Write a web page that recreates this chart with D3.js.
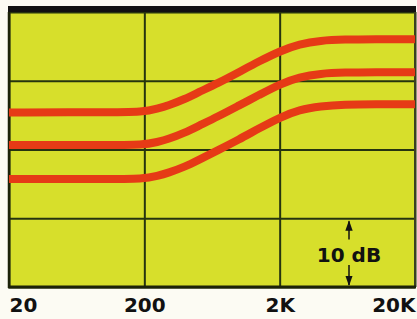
<!DOCTYPE html>
<html>
<head>
<meta charset="utf-8">
<script src="https://cdn.jsdelivr.net/npm/d3@7"></script>
<style>
  body { margin: 0; background: #fcfbf3; }
  svg { display: block; }
</style>
</head>
<body>
<div id="chart"></div>
<script>
// frequency points (Hz) and three shelving curves (dB)
const freqs = [20, 100, 200, 250, 300, 400, 500, 700, 1000, 1400, 2000, 2800, 4000, 6000, 10000, 20000];
const curveHigh = [25.4, 25.4, 25.45, 25.95, 26.4, 27.35, 28.3, 29.65, 31.25, 32.8, 34.3, 35.35, 35.85, 36.0, 36.05, 36.05];
const curveMid  = [20.65, 20.65, 20.65, 21.1, 21.5, 22.45, 23.4, 24.8, 26.4, 27.9, 29.5, 30.55, 31.05, 31.2, 31.25, 31.25];
const curveLow  = [15.7, 15.7, 15.7, 16.15, 16.6, 17.5, 18.45, 19.9, 21.45, 23.05, 24.65, 25.8, 26.3, 26.55, 26.6, 26.6];

const xTicks = [20, 200, 2000, 20000];
const xTickLabels = ["20", "200", "2K", "20K"];
const dbTicks = [0, 10, 20, 30, 40];

const width = 417;
const height = 319;
const plotLeft = 9, plotRight = 415, plotTop = 12, plotBottom = 287;

const svg = d3.select("#chart")
    .append("svg")
    .attr("width", width)
    .attr("height", height);

const x = d3.scaleLog().domain([20, 20000]).range([plotLeft, plotRight]);
const y = d3.scaleLinear().domain([0, 40]).range([plotBottom, plotTop]);

// plot background
svg.append("rect")
    .attr("x", plotLeft)
    .attr("y", plotTop)
    .attr("width", plotRight - plotLeft)
    .attr("height", plotBottom - plotTop)
    .attr("fill", "#d7df2b");

// vertical grid + labels
const xAxis = svg.append("g")
    .attr("transform", "translate(0," + plotBottom + ")")
    .call(d3.axisBottom(x)
        .tickValues(xTicks)
        .tickSize(-(plotBottom - plotTop))
        .tickFormat((d, i) => xTickLabels[i]));

xAxis.select(".domain").remove();
xAxis.selectAll(".tick line")
    .attr("stroke", "#26340f")
    .attr("stroke-width", 2);
xAxis.selectAll(".tick text")
    .attr("y", 25)
    .attr("dy", 0)
    .attr("font-family", "DejaVu Sans")
    .attr("font-weight", "bold")
    .attr("font-size", 20)
    .attr("fill", "#111")
    .attr("text-anchor", (d, i) => i === 0 ? "start" : (i === xTicks.length - 1 ? "end" : "middle"));

// horizontal grid
const yAxis = svg.append("g")
    .attr("transform", "translate(" + plotLeft + ",0)")
    .call(d3.axisLeft(y)
        .tickValues(dbTicks)
        .tickSize(-(plotRight - plotLeft))
        .tickFormat(""));

yAxis.select(".domain").remove();
yAxis.selectAll(".tick line")
    .attr("stroke", "#26340f")
    .attr("stroke-width", 2);

// frame
svg.append("rect")
    .attr("x", plotLeft - 1)
    .attr("y", 6)
    .attr("width", plotRight - plotLeft + 2)
    .attr("height", plotTop - 6)
    .attr("fill", "#111");
svg.append("line")
    .attr("x1", plotLeft).attr("x2", plotLeft)
    .attr("y1", plotTop).attr("y2", plotBottom + 1)
    .attr("stroke", "#1c2208").attr("stroke-width", 2.5);
svg.append("line")
    .attr("x1", plotRight).attr("x2", plotRight)
    .attr("y1", plotTop).attr("y2", plotBottom + 1)
    .attr("stroke", "#3a4020").attr("stroke-width", 2);
svg.append("line")
    .attr("x1", plotLeft - 1).attr("x2", plotRight + 1)
    .attr("y1", plotBottom).attr("y2", plotBottom)
    .attr("stroke", "#1c2208").attr("stroke-width", 3);

// curves
const line = d3.line()
    .x((d, i) => x(freqs[i]))
    .y(d => y(d))
    .curve(d3.curveBasis);

[curveHigh, curveMid, curveLow].forEach(series => {
    svg.append("path")
        .attr("d", line(series))
        .attr("fill", "none")
        .attr("stroke", "#e63a16")
        .attr("stroke-width", 8)
        .attr("stroke-linecap", "butt");
});

// 10 dB marker
const mx = 349;
svg.append("defs").append("marker")
    .attr("id", "arrow")
    .attr("viewBox", "0 0 10 10")
    .attr("refX", 9).attr("refY", 5)
    .attr("markerWidth", 7).attr("markerHeight", 7)
    .attr("orient", "auto")
    .append("path")
    .attr("d", "M0,1.5L10,5L0,8.5Z")
    .attr("fill", "#111");

svg.append("line")
    .attr("x1", mx).attr("x2", mx)
    .attr("y1", y(6.9)).attr("y2", y(10) + 3)
    .attr("stroke", "#111").attr("stroke-width", 1.5)
    .attr("marker-end", "url(#arrow)");
svg.append("line")
    .attr("x1", mx).attr("x2", mx)
    .attr("y1", y(3.2)).attr("y2", y(0) - 2)
    .attr("stroke", "#111").attr("stroke-width", 1.5)
    .attr("marker-end", "url(#arrow)");

svg.append("text")
    .attr("x", mx)
    .attr("y", 262)
    .attr("text-anchor", "middle")
    .attr("font-family", "DejaVu Sans")
    .attr("font-weight", "bold")
    .attr("font-size", 20)
    .attr("fill", "#111")
    .text("10 dB");
</script>
</body>
</html>
